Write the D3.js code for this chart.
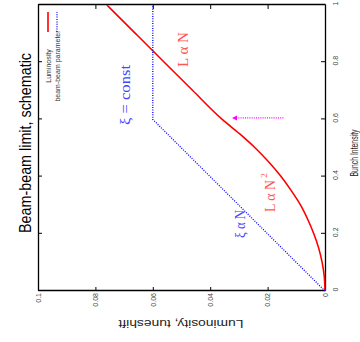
<!DOCTYPE html>
<html><head><meta charset="utf-8">
<script src="https://cdn.jsdelivr.net/npm/d3@7"></script>
<style>body{margin:0;background:#fff}svg{display:block}</style>
</head><body><svg id="c" width="360" height="342"></svg>
<script>
// Data
const intensity  = [0,0.05,0.1,0.15,0.2,0.25,0.3,0.35,0.4,0.45,0.5,0.55,0.6,0.7,0.8,0.9,1.0];
const luminosity = [0,0.00025,0.001,0.0022,0.0039,0.006,0.0085,0.0117,0.0153,0.0195,0.0243,0.0298,0.0358,0.046,0.056,0.066,0.076];
const bbIntensity = [0,0.6,1.0];
const bbParameter = [0,0.06,0.06];
const xTicks = [0,0.2,0.4,0.6,0.8,1];
const xTickLabels = ["0","0.2","0.4","0.6","0.8","1"];
const yTicks = [0,0.02,0.04,0.06,0.08,0.1];
const yTickLabels = ["0","0.02","0.04","0.06","0.08","0.1"];
const legendLabels = ["Luminosity","beam-beam parameter"];
const arrowN = 0.605, arrowFromL = 0.0145, arrowToL = 0.0324;

const svg = d3.select("#c");
// whole chart is drawn in its own frame, then rotated 90° counter-clockwise
const g = svg.append("g").attr("transform","translate(0,342) rotate(-90)");
const x = d3.scaleLinear().domain([0,1]).range([51,337]);
const y = d3.scaleLinear().domain([0,0.1]).range([325,38]);
const sans = "'Liberation Sans', Arial, Helvetica, sans-serif";
const mono = "'Liberation Serif', 'Times New Roman', serif";

// frame + ticks (mirrored, inward)
function styleAxis(sel){
  sel.selectAll(".domain").attr("stroke","#000").attr("stroke-width",1.3);
  sel.selectAll(".tick line").attr("stroke","#000").attr("stroke-width",1);
}
const axL = g.append("g").attr("transform",`translate(${x(0)},0)`)
  .call(d3.axisLeft(y).tickValues(yTicks).tickSize(-4).tickSizeOuter(0).tickFormat((d,i)=>yTickLabels[i]).tickPadding(2));
const axR = g.append("g").attr("transform",`translate(${x(1)},0)`)
  .call(d3.axisRight(y).tickValues(yTicks).tickSize(-4).tickSizeOuter(0).tickFormat(""));
const axB = g.append("g").attr("transform",`translate(0,${y(0)})`)
  .call(d3.axisBottom(x).tickValues(xTicks).tickSize(-4).tickSizeOuter(0).tickFormat((d,i)=>xTickLabels[i]).tickPadding(8));
const axT = g.append("g").attr("transform",`translate(0,${y(0.1)})`)
  .call(d3.axisTop(x).tickValues(xTicks).tickSize(-4).tickSizeOuter(0).tickFormat(""));
[axL,axR,axB,axT].forEach(styleAxis);
[axL,axB].forEach(a=>a.selectAll(".tick text").attr("font-family",sans).attr("font-size",7).attr("fill","#444"));
axB.selectAll(".tick text").attr("dx",1);

// series
const lineL = d3.line().x((d,i)=>x(intensity[i])).y(d=>y(d)).curve(d3.curveMonotoneX);
g.append("path").attr("d",lineL(luminosity)).attr("fill","none").attr("stroke","#ff0000").attr("stroke-width",1.6);
const lineB = d3.line().x((d,i)=>x(bbIntensity[i])).y(d=>y(d));
g.append("path").attr("d",lineB(bbParameter)).attr("fill","none").attr("stroke","#0000ff")
  .attr("stroke-width",1.3).attr("stroke-dasharray","1,1.4");

// legend
const legCols = ["#ff0000","#0000ff"], legDash=[null,"1,1.4"], legY=[48,57];
legendLabels.forEach((t,i)=>{
  g.append("line").attr("x1",310).attr("x2",330).attr("y1",legY[i]).attr("y2",legY[i])
    .attr("stroke",legCols[i]).attr("stroke-width",i?1.3:1.6).attr("stroke-dasharray",legDash[i]);
  g.append("text").attr("x",276).attr("y",legY[i]+3).attr("text-anchor","middle")
    .attr("font-family",sans).attr("font-size",7).attr("fill","#333").text(t);
});

// title and axis labels
g.append("text").attr("x",199).attr("y",31).attr("text-anchor","middle").attr("font-family",sans)
  .attr("font-size",17).attr("textLength",180).attr("lengthAdjust","spacingAndGlyphs").attr("fill","#000")
  .text("Beam-beam limit, schematic");
g.append("text").attr("x",189).attr("y",358).attr("text-anchor","middle").attr("font-family",sans)
  .attr("font-size",10).attr("textLength",47).attr("lengthAdjust","spacingAndGlyphs").attr("fill","#222")
  .text("Bunch Intensity");
g.append("text").attr("transform","translate(22,181) rotate(-90)").attr("text-anchor","middle").attr("font-family",sans)
  .attr("font-size",10).attr("textLength",125).attr("lengthAdjust","spacingAndGlyphs").attr("fill","#222")
  .text("Luminosity, tuneshift");

// annotations
function ann(t,xx,yy,len,col,fs){
  return g.append("text").attr("x",xx).attr("y",yy).attr("font-family",mono).attr("font-size",fs)
    .attr("textLength",len).attr("lengthAdjust","spacingAndGlyphs").attr("fill",col).text(t);
}
ann("L \u03b1 N",275,188,35,"#ff5555",15);
ann("\u03be = const",217,130,60,"#4444ff",15);
ann("L \u03b1 N",130,275,32,"#ff5555",15);
ann("2",164,267,5,"#ff5555",8);
ann("\u03be \u03b1 N",104,245,28,"#4444ff",15);

// arrow
const ax0 = x(arrowN);
g.append("line").attr("x1",ax0).attr("x2",ax0).attr("y1",y(arrowFromL)).attr("y2",y(arrowToL)+4)
  .attr("stroke","#ff00ff").attr("stroke-width",1.3).attr("stroke-dasharray","1,1.2");
g.append("path").attr("d",`M${ax0},${y(arrowToL)} L${ax0-2.5},${y(arrowToL)+5} L${ax0+2.5},${y(arrowToL)+5} Z`)
  .attr("fill","#ff00ff");
</script></body></html>
